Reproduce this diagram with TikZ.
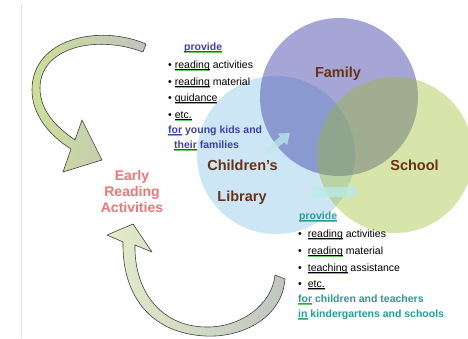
\documentclass[tikz,border=0pt]{standalone}
\usepackage{fontspec}
\setmainfont{Liberation Sans}
\definecolor{libblue}{RGB}{205,230,246}
\definecolor{famcol}{RGB}{75,77,173}
\definecolor{schcol}{RGB}{152,186,37}
\definecolor{labbrown}{RGB}{105,50,20}
\definecolor{salmon}{RGB}{244,116,116}
\definecolor{blueT}{RGB}{62,66,170}
\definecolor{tealT}{RGB}{40,155,150}
\definecolor{spg}{RGB}{110,200,110}
\definecolor{cyanA}{RGB}{188,234,232}
\definecolor{agreen}{RGB}{205,222,150}
\definecolor{apale}{RGB}{228,236,200}
\definecolor{agray}{RGB}{192,197,192}
\newcommand\spl[1]{\setbox0\hbox{#1}\rlap{\rule[-1.7pt]{\wd0}{0.4pt}}\rlap{\textcolor{spg}{\rule[-2.7pt]{\wd0}{0.5pt}}}#1}
\begin{document}
\begin{tikzpicture}[x=1pt,y=-1pt,
  lbl/.style={font=\fontsize{14.5}{16}\selectfont\bfseries, text=labbrown, inner sep=0pt},
  txt/.style={font=\fontsize{10.5}{12}\selectfont, anchor=base west, inner sep=0pt},
  txtb/.style={font=\fontsize{10.5}{12}\selectfont\bfseries, anchor=base west, inner sep=0pt},
  bigarrow/.style={draw=black!75, line width=0.6pt, line join=round},
  cyanarrow/.style={fill=cyanA, opacity=0.75}]
\path[use as bounding box] (0,0) rectangle (468,338);
\draw[black!13, line width=0.8pt] (21.5,5) -- (21.5,338);
% circles
\fill[libblue] (276,155) circle (79);
\fill[famcol, opacity=0.5] (339,97) circle (79);
\fill[schcol, opacity=0.39] (395,155) circle (78);
% small cyan arrows
\fill[cyanarrow] (269.2,154.7) -- (284.5,142.1) -- (287.1,145.2) -- (290,133) -- (277.5,133.6) -- (280.1,136.7) -- (264.8,149.3) -- cycle;
\fill[cyanarrow] (312,187) -- (348,187) -- (348,183) -- (360,192) -- (348,201) -- (348,197) -- (312,197) -- cycle;
% big curved arrows
\path[bigarrow, left color=agreen, middle color=apale, right color=agray]
  (146,44) .. controls (100,24) and (32,38) .. (32,90)
  .. controls (32,115) and (50,136) .. (71,149) -- (63,172) -- (102,160) -- (82,120) -- (75,140)
  .. controls (58,128) and (40,112) .. (40,88)
  .. controls (40,48) and (95,34) .. (143,52) -- cycle;
\path[bigarrow, left color=apale, middle color=agreen, right color=agray]
  (285,279) .. controls (282,318) and (242,338) .. (205,336)
  .. controls (150,333) and (122,295) .. (123,242) -- (107,235) -- (133,224) -- (152,252) -- (135,245)
  .. controls (134,290) and (160,326) .. (205,327)
  .. controls (240,328) and (272,305) .. (275,275) -- cycle;
% labels
\node[lbl] (family) at (338,74) {Family};
\node[lbl] (children) at (242.5,165) {Children’s};
\node[lbl] (library) at (242,198) {Library};
\node[lbl] (school) at (414.5,165) {School};
\node[font=\fontsize{14}{16}\selectfont\bfseries, text=salmon, align=center, inner sep=0pt] (early) at (132,191) {Early\\Reading\\Activities};
% top text block
\node[txtb, text=blueT] (tp) at (184,50) {\spl{provide}};
\node[txt] (t1) at (168,68) {\textbullet\hspace{3pt}\spl{reading} activities};
\node[txt] (t2) at (168,85) {\textbullet\hspace{3pt}\spl{reading} material};
\node[txt] (t3) at (168,101) {\textbullet\hspace{3pt}\spl{guidance}};
\node[txt] (t4) at (168,118) {\textbullet\hspace{3pt}\spl{etc.}};
\node[txtb, text=blueT] (t5) at (168,133) {\spl{for} young kids and};
\node[txtb, text=blueT] (t6) at (174,148) {\spl{their} families};
% bottom text block
\node[txtb, text=tealT] (bp) at (299,219) {\spl{provide}};
\node[txt] (b1) at (298,237) {\textbullet\hspace{6pt}\spl{reading} activities};
\node[txt] (b2) at (298,254) {\textbullet\hspace{6pt}\spl{reading} material};
\node[txt] (b3) at (298,271) {\textbullet\hspace{6pt}\spl{teaching} assistance};
\node[txt] (b4) at (298,287) {\textbullet\hspace{6pt}\spl{etc.}};
\node[txtb, text=tealT] (b5) at (298,302) {\spl{for} children and teachers};
\node[txtb, text=tealT] (b6) at (298,317) {\spl{in} kindergartens and schools};
\end{tikzpicture}
\end{document}
